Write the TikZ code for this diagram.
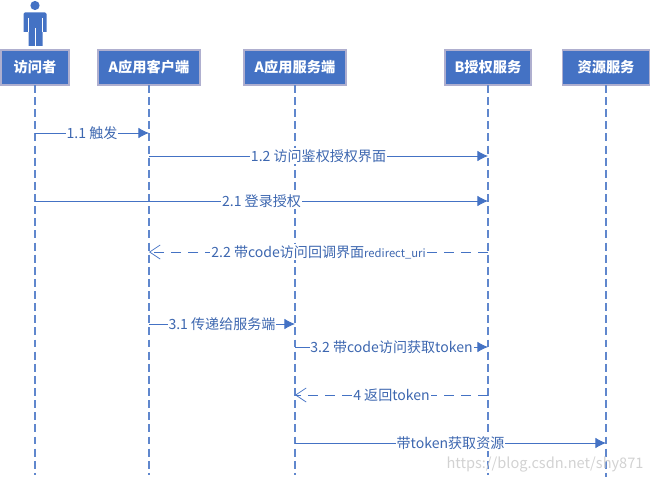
\documentclass[tikz,border=0pt]{standalone}
\usepackage{fontspec}
\setmainfont{Noto Sans CJK SC}
\usetikzlibrary{arrows.meta}
\definecolor{bluefill}{HTML}{4472C4}
\tikzset{
  head/.style={draw=blue!25!gray!50,line width=0.8pt,fill=bluefill,text=white,font=\fontsize{8.1}{9}\selectfont\bfseries,minimum height=0.7cm,inner sep=0pt},
  life/.style={bluefill!85!white,dash pattern=on 4.5pt off 2.4pt,line width=0.6pt},
  msg/.style={bluefill,line width=0.5pt,-{Latex[length=6pt,width=6pt]}},
  ret/.style={bluefill,line width=0.5pt,dash pattern=on 5.7pt off 4pt,-{Straight Barb[length=6pt,width=8pt,line width=0.4pt]}},
  lab/.style={midway,fill=white,inner xsep=0.5pt,inner ysep=1pt,text=bluefill!90!black,font=\fontsize{8}{9}\selectfont},
}
\begin{document}
\begin{tikzpicture}[x=0.02cm,y=-0.02cm]
  \useasboundingbox (0,0) rectangle (651,483);
  \node[head,minimum width=1.36cm] (visitor) at (35,67.5) {访问者};
  \node[head,minimum width=2.04cm] (client) at (149,67.5) {A应用客户端};
  \node[head,minimum width=2.04cm] (server) at (295,67.5) {A应用服务端};
  \node[head,minimum width=1.72cm] (auth) at (488,67.5) {B授权服务};
  \node[head,minimum width=1.74cm] (resource) at (606,67.5) {资源服务};
  % actor
  \fill[bluefill] (35,5.5) circle (4.6);
  \fill[bluefill] (25,12.5) -- (45,12.5) -- (46.5,14) -- (46.5,32) -- (42.5,32) -- (42.5,46) -- (28.5,46) -- (28.5,32) -- (23.5,32) -- (23.5,14) -- cycle;
  \draw[white,line width=0.3pt] (35,28) -- (35,46) (28,18) -- (28,32) (42.5,18) -- (42.5,32);
  % lifelines
  \foreach \n/\e in {visitor/475,client/475,server/475,auth/475,resource/477} {
    \coordinate (\n-end) at (\n |- 0,\e);
    \draw[life] (\n) ++(0,17.5) -- (\n-end);
  }
  \foreach \r/\y in {a/133,b/156,c/201,d/252,e/324,f/347,g/395,h/443}
    \coordinate (row\r) at (0,\y);
  \draw[msg] (visitor |- rowa) -- node[lab] {1.1 触发} (client |- rowa);
  \draw[msg] (client |- rowb) -- node[lab] {1.2 访问鉴权授权界面} (auth |- rowb);
  \draw[msg] (visitor |- rowc) -- node[lab] {2.1 登录授权} (auth |- rowc);
  \draw[ret] (auth |- rowd) -- node[lab] {2.2 带code访问回调界面{\fontsize{6.4}{7}\selectfont redirect\_uri}} (client |- rowd);
  \draw[msg] (client |- rowe) -- node[lab] {3.1 传递给服务端} (server |- rowe);
  \draw[msg] (server |- rowf) -- node[lab] {3.2 带code访问获取token} (auth |- rowf);
  \draw[ret] (auth |- rowg) -- node[lab] {4 返回token} (server |- rowg);
  \draw[msg] (server |- rowh) -- node[lab] {带token获取资源} (resource |- rowh);
  \node[text=gray!35,font=\fontsize{8.3}{10}\selectfont,inner sep=0pt] (mark) at (545,465) {https://blog.csdn.net/shy871};
\end{tikzpicture}
\end{document}
